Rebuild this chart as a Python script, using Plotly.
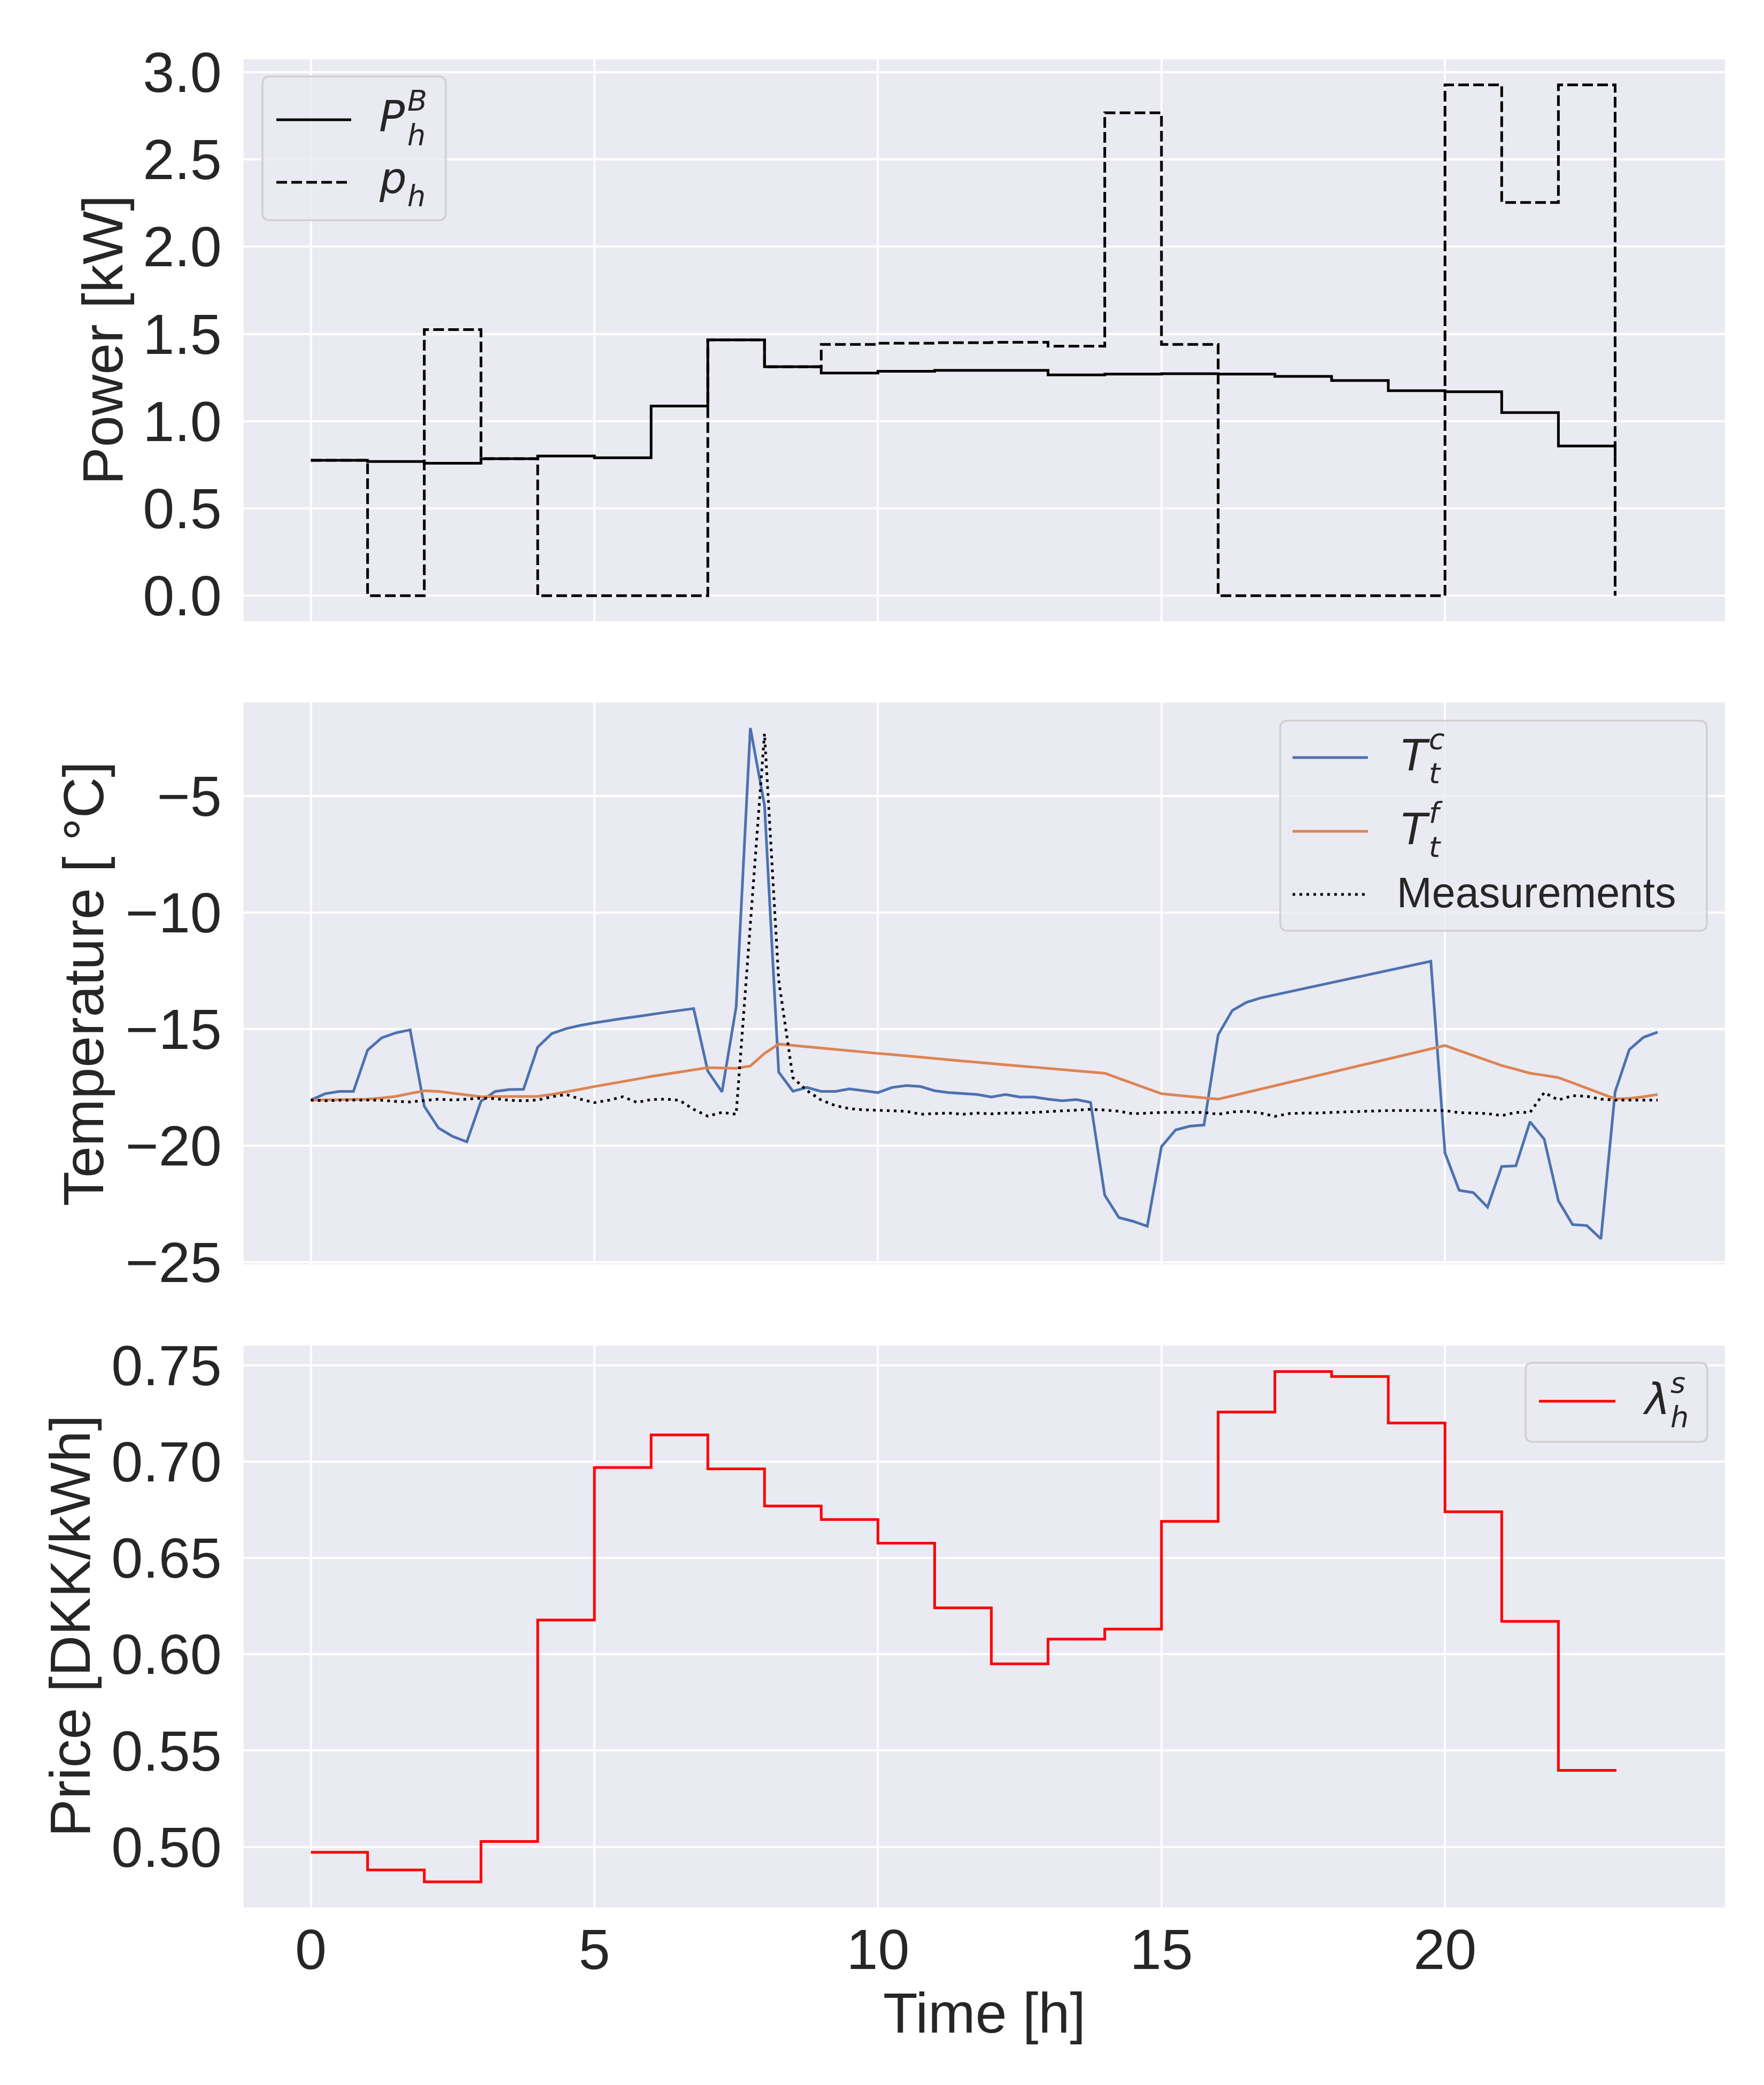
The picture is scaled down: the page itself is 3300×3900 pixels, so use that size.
import plotly.graph_objects as go

# ---------------- data ----------------
hours = list(range(24))
power_base = [0.776, 0.769, 0.759, 0.785, 0.800, 0.790, 1.087, 1.466, 1.312, 1.276,
              1.286, 1.291, 1.291, 1.265, 1.270, 1.272, 1.270, 1.257, 1.233, 1.175,
              1.169, 1.049, 0.858, 0.800]
power_sched = [0.776, 0.000, 1.525, 0.785, 0.000, 0.000, 0.000, 1.466, 1.312, 1.440,
               1.447, 1.450, 1.452, 1.430, 2.767, 1.440, 0.000, 0.000, 0.000, 0.000,
               2.927, 2.253, 2.927, 0.000]
price = [0.4972, 0.4880, 0.4818, 0.5028, 0.6178, 0.6970, 0.7139, 0.6963, 0.6770, 0.6700,
         0.6577, 0.6241, 0.5950, 0.6079, 0.6131, 0.6690, 0.7258, 0.7468, 0.7443, 0.7201,
         0.6740, 0.6171, 0.5397, 0.5390]

quarter = [i / 4 for i in range(96)]
temp_c = [-18.04, -17.77, -17.67, -17.67, -15.90, -15.37, -15.16, -15.03,
          -18.31, -19.24, -19.60, -19.83, -18.09, -17.67, -17.59, -17.58,
          -15.77, -15.19, -14.98, -14.84, -14.73, -14.63, -14.54, -14.46,
          -14.36, -14.28, -14.20, -14.12, -16.80, -17.69, -14.04, -2.09,
          -5.40, -16.84, -17.66, -17.50, -17.67, -17.67, -17.56, -17.64,
          -17.72, -17.50, -17.42, -17.46, -17.64, -17.72, -17.77, -17.80,
          -17.91, -17.80, -17.91, -17.91, -18.00, -18.07, -18.02, -18.14,
          -22.12, -23.08, -23.24, -23.45, -20.04, -19.32, -19.16, -19.11,
          -15.24, -14.20, -13.85, -13.66, -13.53, -13.40, -13.27, -13.14,
          -13.00, -12.87, -12.74, -12.61, -12.48, -12.35, -12.22, -12.09,
          -20.31, -21.91, -22.01, -22.63, -20.89, -20.86, -18.97, -19.72,
          -22.36, -23.38, -23.42, -23.99, -17.69, -15.88, -15.35, -15.13]
temp_f = [-18.04, -18.03, -18.02, -18.02, -18.00, -17.95, -17.88, -17.76,
          -17.64, -17.67, -17.74, -17.82, -17.90, -17.89, -17.88, -17.88,
          -17.88, -17.80, -17.70, -17.58, -17.46, -17.36, -17.25, -17.14,
          -17.03, -16.93, -16.83, -16.73, -16.65, -16.67, -16.68, -16.58,
          -16.04, -15.64, -15.70, -15.76, -15.81, -15.86, -15.92, -15.98,
          -16.04, -16.09, -16.15, -16.20, -16.26, -16.31, -16.37, -16.42,
          -16.48, -16.53, -16.58, -16.63, -16.69, -16.74, -16.79, -16.84,
          -16.89, -17.11, -17.33, -17.55, -17.77, -17.83, -17.88, -17.94,
          -18.00, -17.86, -17.71, -17.57, -17.43, -17.28, -17.14, -16.99,
          -16.85, -16.71, -16.56, -16.42, -16.28, -16.13, -15.99, -15.84,
          -15.70, -15.92, -16.13, -16.35, -16.56, -16.72, -16.89, -16.98,
          -17.08, -17.30, -17.53, -17.76, -17.99, -17.97, -17.90, -17.80]
temp_meas = [-18.04, -18.07, -18.05, -18.04, -18.04, -18.05, -18.10, -18.12,
             -18.07, -18.00, -18.04, -18.00, -17.96, -17.98, -18.05, -18.07,
             -18.04, -17.90, -17.80, -18.00, -18.15, -18.05, -17.90, -18.14,
             -18.02, -18.00, -18.05, -18.44, -18.73, -18.57, -18.65, -10.50,
             -2.33, -12.90, -17.08, -17.64, -18.04, -18.28, -18.41, -18.46,
             -18.49, -18.50, -18.52, -18.65, -18.62, -18.60, -18.65, -18.60,
             -18.63, -18.60, -18.60, -18.57, -18.52, -18.49, -18.48, -18.44,
             -18.47, -18.52, -18.63, -18.60, -18.57, -18.57, -18.57, -18.57,
             -18.65, -18.55, -18.52, -18.60, -18.74, -18.62, -18.60, -18.60,
             -18.57, -18.55, -18.52, -18.49, -18.49, -18.49, -18.49, -18.49,
             -18.49, -18.58, -18.60, -18.62, -18.71, -18.57, -18.57, -17.72,
             -18.04, -17.85, -17.88, -18.00, -18.04, -18.05, -18.04, -18.04]

x_ticks = [0, 5, 10, 15, 20]
power_ticks = [0.0, 0.5, 1.0, 1.5, 2.0, 2.5, 3.0]
temp_ticks = [-25, -20, -15, -10, -5]
price_ticks = [0.50, 0.55, 0.60, 0.65, 0.70, 0.75]

# ---------------- style ----------------
W, H = 3300, 3900
BG = "#EAEAF2"
TXT = "#262626"
SANS = "Liberation Sans, Arial, sans-serif"
MATH = "DejaVu Sans, sans-serif"
LW = 5
DASH = "20px,8px"
DOT = "5px,8px"
BLUE = "#4C72B0"
ORANGE = "#DD8452"


def X(px):
    return px / W


def Y(py):
    return 1 - py / H


fig = go.Figure()

fig.add_trace(go.Scatter(x=hours, y=power_base, mode="lines", line_shape="hv",
                         line=dict(color="black", width=LW), name="P_h^B",
                         xaxis="x", yaxis="y", showlegend=False))
fig.add_trace(go.Scatter(x=hours, y=power_sched, mode="lines", line_shape="hv",
                         line=dict(color="black", width=LW, dash=DASH), name="p_h",
                         xaxis="x", yaxis="y", showlegend=False))
fig.add_trace(go.Scatter(x=quarter, y=temp_c, mode="lines",
                         line=dict(color=BLUE, width=LW), name="T_t^c",
                         xaxis="x2", yaxis="y2", showlegend=False))
fig.add_trace(go.Scatter(x=quarter, y=temp_f, mode="lines",
                         line=dict(color=ORANGE, width=LW), name="T_t^f",
                         xaxis="x2", yaxis="y2", showlegend=False))
fig.add_trace(go.Scatter(x=quarter, y=temp_meas, mode="lines",
                         line=dict(color="black", width=LW, dash=DOT), name="Measurements",
                         xaxis="x2", yaxis="y2", showlegend=False))
fig.add_trace(go.Scatter(x=hours, y=price, mode="lines", line_shape="hv",
                         line=dict(color="#FF0000", width=LW), name="lambda_h^s",
                         xaxis="x3", yaxis="y3", showlegend=False))

xdom = [X(447.6), X(3219)]
p1 = [Y(1154), Y(103)]
p2 = [Y(2357), Y(1306)]
p3 = [Y(3560), Y(2509)]
xrange_ = [-1.1875, 24.9375]

common_x = dict(domain=xdom, range=xrange_, tickvals=x_ticks, showgrid=True,
                gridcolor="white", gridwidth=4, zeroline=False, showline=False,
                ticks="", automargin=False,
                tickfont=dict(family=SANS, size=106, color=TXT))
common_y = dict(showgrid=True, gridcolor="white", gridwidth=4, zeroline=False,
                showline=False, ticks="", ticklabelstandoff=40, automargin=False,
                tickfont=dict(family=SANS, size=106, color=TXT))

fig.update_layout(
    width=W, height=H, autosize=False,
    margin=dict(l=0, r=0, t=0, b=0, pad=0),
    paper_bgcolor="white", plot_bgcolor=BG,
    showlegend=False,
    xaxis=dict(common_x, anchor="y", showticklabels=False),
    xaxis2=dict(common_x, anchor="y2", matches="x", showticklabels=False),
    xaxis3=dict(common_x, anchor="y3", matches="x", showticklabels=True,
                ticklabelstandoff=8),
    yaxis=dict(common_y, domain=p1, anchor="x", range=[-0.1464, 3.0734],
               tickvals=power_ticks, tickformat=".1f"),
    yaxis2=dict(common_y, domain=p2, anchor="x2", range=[-25.085, -0.995],
                tickvals=temp_ticks),
    yaxis3=dict(common_y, domain=p3, anchor="x3", range=[0.4685, 0.7603],
                tickvals=price_ticks, tickformat=".2f"),
)

annotations = []
shapes = []


def txt(x_px, base_px, text, size, family=SANS, color=TXT):
    annotations.append(dict(xref="paper", yref="paper", x=X(x_px),
                            y=Y(base_px - 0.35 * size), xanchor="left", yanchor="middle",
                            text=text, showarrow=False, borderpad=0,
                            font=dict(family=family, size=size, color=color)))


def vtitle(cx, cy, text, size=106):
    annotations.append(dict(xref="paper", yref="paper", x=X(cx), y=Y(cy),
                            xanchor="center", yanchor="middle", text=text,
                            textangle=-90, showarrow=False,
                            font=dict(family=SANS, size=size, color=TXT)))


def box(x0, y0, x1, y1, r=14):
    def P(px, py):
        return f"{X(px):.6f},{Y(py):.6f}"
    path = (f"M {P(x0 + r, y0)} L {P(x1 - r, y0)} Q {P(x1, y0)} {P(x1, y0 + r)} "
            f"L {P(x1, y1 - r)} Q {P(x1, y1)} {P(x1 - r, y1)} L {P(x0 + r, y1)} "
            f"Q {P(x0, y1)} {P(x0, y1 - r)} L {P(x0, y0 + r)} Q {P(x0, y0)} {P(x0 + r, y0)} Z")
    shapes.append(dict(type="path", xref="paper", yref="paper", path=path,
                       fillcolor="rgba(234,234,242,0.8)",
                       line=dict(color="#D0D0D0", width=3.5), layer="above"))


def sample(x0, x1, yc, color, dash="solid"):
    shapes.append(dict(type="line", xref="paper", yref="paper", x0=X(x0), x1=X(x1),
                       y0=Y(yc), y1=Y(yc), layer="above",
                       line=dict(color=color, width=LW, dash=dash)))


def mlabel(x0, base, main, sup, sub, dx, fs=80, sfs=54):
    # main symbol with stacked superscript / subscript to its right
    txt(x0, base, f"<i>{main}</i>", fs, MATH)
    if sup:
        txt(x0 + dx, base - 40, f"<i>{sup}</i>", sfs, MATH)
    if sub:
        txt(x0 + dx, base + 24, f"<i>{sub}</i>", sfs, MATH)


# legend 1 (power)
box(483, 135, 826, 404)
sample(509, 649, 216, "black")
sample(509, 649, 333, "black", DASH)
mlabel(700, 239, "P", "B", "h", 53)
mlabel(700, 353, "p", None, "h", 53)

# legend 2 (temperature)
box(2387, 1340, 3185, 1733)
sample(2410, 2551, 1409, BLUE)
sample(2410, 2551, 1547, ORANGE)
sample(2410, 2551, 1665, "black", DOT)
mlabel(2612, 1433, "T", "c", "t", 52)
mlabel(2612, 1571, "T", "f", "t", 52)
txt(2604, 1689, "Measurements", 79)

# legend 3 (price)
box(2846, 2541, 3186, 2689)
sample(2871, 3014, 2613, "#FF0000")
mlabel(3064, 2637, "λ", "s", "h", 52)

# axis titles
vtitle(184, 628, "Power [kW]")
vtitle(148, 1832, "Temperature [ °C]")
vtitle(123, 3034, "Price [DKK/kWh]")
annotations.append(dict(xref="paper", yref="paper", x=X(1833), y=Y(3757),
                        xanchor="center", yanchor="middle", text="Time [h]",
                        showarrow=False, font=dict(family=SANS, size=106, color=TXT)))

fig.update_layout(annotations=annotations, shapes=shapes)
fig.write_html("out.html")
